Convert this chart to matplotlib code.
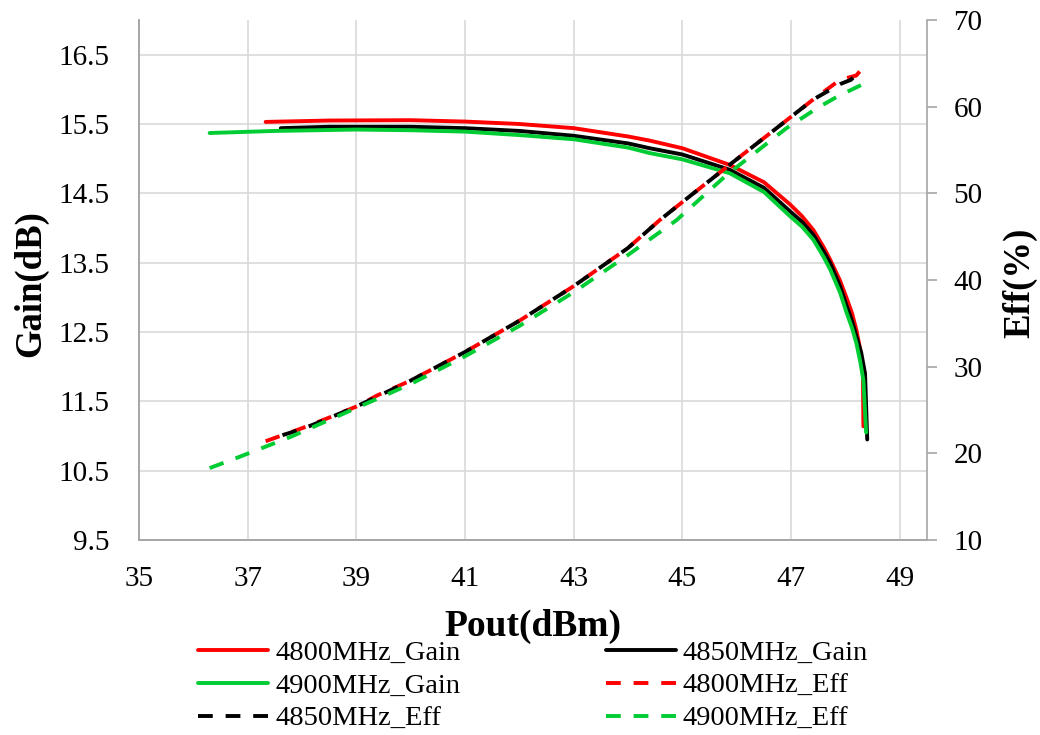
import matplotlib
matplotlib.use("Agg")
import matplotlib.pyplot as plt

plt.rcParams['font.family'] = ['Liberation Serif', 'DejaVu Serif']

# ---- data ----
pout_4800_gain = [37.33, 38.5, 40.0, 41, 42, 43, 44, 44.40, 45, 45.87, 46.5, 46.98, 47.2, 47.41, 47.6, 47.72, 47.9, 48.02, 48.12, 48.20, 48.27, 48.32, 48.33]
gain_4800 = [15.53, 15.55, 15.555, 15.535, 15.50, 15.44, 15.32, 15.26, 15.15, 14.91, 14.66, 14.34, 14.17, 13.97, 13.72, 13.54, 13.24, 12.99, 12.77, 12.53, 12.25, 11.95, 11.14]

pout_4850_gain = [37.61, 38.5, 40.0, 41, 42, 43, 44, 44.40, 45, 45.87, 46.5, 46.98, 47.2, 47.41, 47.6, 47.72, 47.9, 48.02, 48.12, 48.20, 48.29, 48.36, 48.40]
gain_4850 = [15.44, 15.46, 15.46, 15.44, 15.40, 15.33, 15.22, 15.15, 15.06, 14.84, 14.58, 14.24, 14.09, 13.90, 13.66, 13.49, 13.16, 12.88, 12.66, 12.44, 12.20, 11.90, 10.95]

pout_4900_gain = [36.30, 37.5, 39, 40.0, 41, 42, 43, 44, 44.40, 45, 45.87, 46.5, 46.98, 47.2, 47.41, 47.6, 47.72, 47.9, 48.02, 48.12, 48.20, 48.27, 48.33, 48.38]
gain_4900 = [15.37, 15.40, 15.42, 15.41, 15.39, 15.34, 15.28, 15.16, 15.08, 14.99, 14.79, 14.52, 14.17, 14.02, 13.83, 13.58, 13.40, 13.07, 12.78, 12.56, 12.34, 12.08, 11.80, 11.05]

pout_4800_eff = [37.33, 38, 38.53, 39, 39.39, 40, 41, 42, 43, 44, 44.58, 45, 45.87, 46.85, 47.4, 47.9, 48.2, 48.36]
eff_4800 = [21.4, 22.9, 24.2, 25.4, 26.7, 28.4, 31.7, 35.3, 39.3, 43.7, 46.9, 49.0, 53.3, 58.1, 60.8, 63.1, 63.6, 64.8]

pout_4850_eff = [37.64, 38, 38.28, 39, 40, 41, 42, 43, 44, 44.58, 45, 45.87, 46.85, 47.4, 47.9, 48.1, 48.23]
eff_4850 = [22.1, 22.8, 23.5, 25.4, 28.4, 31.7, 35.3, 39.3, 43.7, 46.9, 49.0, 53.3, 58.1, 60.8, 62.6, 63.1, 63.9]

pout_4900_eff = [36.30, 36.81, 37.79, 38.77, 40, 41, 42, 43, 44, 44.89, 45.81, 46.91, 47.47, 47.86, 48.29, 48.39]
eff_4900 = [18.3, 19.5, 21.9, 24.6, 28.0, 31.2, 34.7, 38.6, 42.9, 46.9, 52.1, 57.5, 59.8, 61.2, 62.5, 62.8]

x_ticks = [35, 37, 39, 41, 43, 45, 47, 49]
gain_ticks = [9.5, 10.5, 11.5, 12.5, 13.5, 14.5, 15.5, 16.5]
eff_ticks = [10, 20, 30, 40, 50, 60, 70]

RED = '#FF0000'
BLACK = '#000000'
GREEN = '#00CC33'
GRID = '#D9D9D9'
SPINE = '#A6A6A6'
LW = 2.8
DASH = (3.8, 3.3)

fig = plt.figure(figsize=(10.4, 7.35), dpi=100)
ax = fig.add_axes([139/1040, 1-540/735, (927-139)/1040, (540-20)/735])
ax2 = ax.twinx()

# ---- gain (left axis) ----
l1, = ax.plot(pout_4800_gain, gain_4800, color=RED, lw=LW, solid_capstyle='round', solid_joinstyle='round', label='4800MHz_Gain')
l2, = ax.plot(pout_4850_gain, gain_4850, color=BLACK, lw=LW, solid_capstyle='round', solid_joinstyle='round', label='4850MHz_Gain')
l3, = ax.plot(pout_4900_gain, gain_4900, color=GREEN, lw=LW, solid_capstyle='round', solid_joinstyle='round', label='4900MHz_Gain')

# ---- efficiency (right axis) ----
l4, = ax2.plot(pout_4800_eff, eff_4800, color=RED, lw=LW, dashes=DASH, dash_capstyle='butt', label='4800MHz_Eff')
l5, = ax2.plot(pout_4850_eff, eff_4850, color=BLACK, lw=LW, dashes=DASH, dash_capstyle='butt', label='4850MHz_Eff')
l6, = ax2.plot(pout_4900_eff, eff_4900, color=GREEN, lw=LW, dashes=DASH, dash_capstyle='butt', label='4900MHz_Eff')

ax.set_xlim(35, 49.5)
ax.set_ylim(9.5, 17.0)
ax2.set_ylim(10, 70)
ax.set_xticks(x_ticks)
ax.set_yticks(gain_ticks)
ax2.set_yticks(eff_ticks)

ax.grid(True, color=GRID, lw=1.2)
ax.set_axisbelow(True)

for a in (ax, ax2):
    a.spines['top'].set_visible(False)
    for s in a.spines.values():
        s.set_color(SPINE)
        s.set_linewidth(1.2)
ax.spines['right'].set_visible(False)

ax.tick_params(axis='y', length=0, pad=21, labelsize=21)
ax.tick_params(axis='x', length=0, pad=19, labelsize=21)
ax2.tick_params(axis='y', length=7, width=1.2, color=SPINE, direction='out', pad=12, labelsize=21)

ax.set_xlabel('Pout(dBm)', fontsize=27, fontweight='bold')
ax.xaxis.set_label_coords(0.5, -0.167)
ax.xaxis.label.set_va('center')
ax.set_ylabel('Gain(dB)', fontsize=26.5, fontweight='bold')
ax.yaxis.set_label_coords(-0.138, 0.494)
ax.yaxis.label.set_va('center')
ax2.set_ylabel('Eff(%)', fontsize=26.5, fontweight='bold', rotation=90)
ax2.yaxis.set_label_coords(1.118, 0.494)
ax2.yaxis.label.set_va('center')

# legend, row-wise order as in the reference
handles = [l1, l3, l5, l2, l4, l6]
leg = fig.legend(handles=handles, labels=[h.get_label() for h in handles],
                 ncol=2, loc='upper left', bbox_to_anchor=(198/1040, 1-640/735),
                 frameon=False, fontsize=20.5, handlelength=2.46, handletextpad=0.25,
                 columnspacing=5.1, labelspacing=0.25, borderpad=0, borderaxespad=0)

fig.savefig('out.png', dpi=100)
